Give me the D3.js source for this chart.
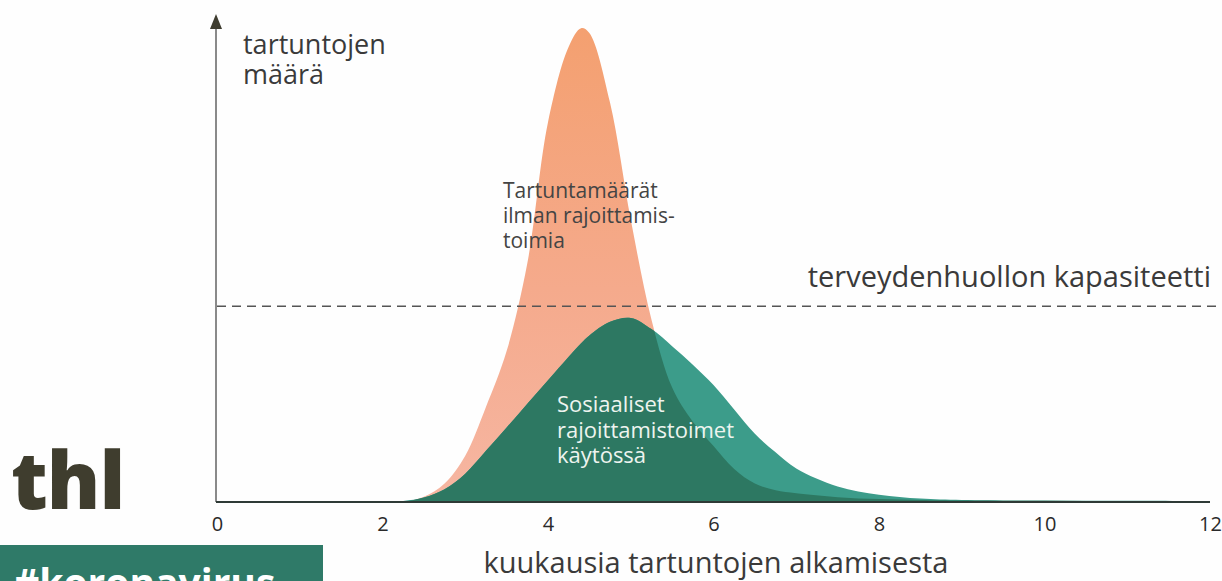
<!DOCTYPE html>
<html>
<head>
<meta charset="utf-8">
<script src="https://cdn.jsdelivr.net/npm/d3@7"></script>
<style>
  body { margin: 0; background: #fefefe; }
  svg { display: block; font-family: "Open Sans", sans-serif; }
</style>
</head>
<body>
<svg id="chart" width="1222" height="581"></svg>
<script>
// months since start of epidemic
var months = [0, 1, 2, 2.25, 2.5, 2.75, 3, 3.25, 3.5, 3.75, 4, 4.25, 4.4, 4.5, 4.75, 5, 5.25, 5.5, 5.75, 6, 6.25, 6.5, 6.75, 7, 7.5, 8, 8.5, 9, 10, 11, 12];
// infections without restrictions (orange)
var noRestrictions = [0, 0, 0, 0.1, 1.1, 3.8, 9.5, 19.5, 31, 49, 78, 93.5, 97.3, 96.3, 82, 58, 37.5, 23.5, 16.5, 11.5, 6.8, 3.8, 2.4, 1.8, 1.0, 0.6, 0.4, 0.3, 0.25, 0.2, 0.2];
// infections with social restrictions (green)
var withRestrictions = [0, 0, 0, 0.2, 0.9, 2.6, 5.8, 10.5, 15.3, 20.2, 25, 29.8, 32.6, 34.2, 37, 37.8, 35.5, 32, 28.2, 24, 19, 14, 10.2, 6.9, 3.2, 1.5, 0.7, 0.4, 0.3, 0.25, 0.2];
var capacity = 40.2;
var xTicks = [0, 2, 4, 6, 8, 10, 12];

var svg = d3.select("#chart");

var x = d3.scaleLinear().domain([0, 12]).range([217, 1210]);
var y = d3.scaleLinear().domain([0, 100]).range([502, 15]);

var defs = svg.append("defs");
var grad = defs.append("linearGradient")
    .attr("id", "orangeGrad")
    .attr("x1", 0).attr("y1", 0).attr("x2", 0).attr("y2", 1);
grad.append("stop").attr("offset", "0%").attr("stop-color", "#f4a070");
grad.append("stop").attr("offset", "55%").attr("stop-color", "#f5aa8c");
grad.append("stop").attr("offset", "100%").attr("stop-color", "#f6b6a2");

var area = function(vals) {
  return d3.area()
    .x(function(d, i) { return x(months[i]); })
    .y0(y(0))
    .y1(function(d) { return y(Math.max(0, d)); })
    .curve(d3.curveCatmullRom.alpha(0.5))(vals);
};

// orange curve
svg.append("path")
    .attr("d", area(noRestrictions))
    .attr("fill", "url(#orangeGrad)");

// green curve, lighter where it lies over white
svg.append("path")
    .attr("d", area(withRestrictions))
    .attr("fill", "#3c9c8a");

// darker green where green overlaps orange
defs.append("clipPath").attr("id", "orangeClip")
  .append("path").attr("d", area(noRestrictions));
svg.append("path")
    .attr("d", area(withRestrictions))
    .attr("clip-path", "url(#orangeClip)")
    .attr("fill", "#2d7862");

// capacity line
svg.append("line")
    .attr("x1", x(0)).attr("x2", 1222)
    .attr("y1", y(capacity)).attr("y2", y(capacity))
    .attr("stroke", "#555")
    .attr("stroke-width", 1.3)
    .attr("stroke-dasharray", "9,6");

// y axis with arrow
svg.append("line")
    .attr("x1", 216).attr("x2", 216)
    .attr("y1", y(0)).attr("y2", 26)
    .attr("stroke", "#8a8a8a").attr("stroke-width", 2);
svg.append("path")
    .attr("d", "M210,29 L216,14 L222,29 Z")
    .attr("fill", "#3f3d30");

// x axis
svg.append("line")
    .attr("x1", 216).attr("x2", x(12))
    .attr("y1", y(0)).attr("y2", y(0))
    .attr("stroke", "#2e3a36").attr("stroke-width", 2.2);

var xAxis = svg.append("g")
    .attr("transform", "translate(0," + y(0) + ")")
    .call(d3.axisBottom(x).tickValues(xTicks).tickSize(0).tickPadding(15).tickFormat(d3.format("d")));
xAxis.select(".domain").remove();
xAxis.selectAll("text")
    .style("font-family", "Open Sans, sans-serif")
    .style("font-size", "20px")
    .attr("fill", "#2a2a2a");

// labels
var label = function(lines, lx, ly, size, color, lh, anchor) {
  var t = svg.append("text")
      .attr("x", lx).attr("y", ly)
      .attr("font-size", size)
      .attr("fill", color)
      .attr("text-anchor", anchor || "start");
  lines.forEach(function(s, i) {
    t.append("tspan").attr("x", lx).attr("dy", i === 0 ? 0 : lh).text(s);
  });
};

label(["tartuntojen", "määrä"], 243, 54, 27, "#3a3a3a", 30);
label(["Tartuntamäärät", "ilman rajoittamis-", "toimia"], 503, 198, 21, "#444", 25);
label(["terveydenhuollon kapasiteetti"], 1211, 287, 29, "#3a3a3a", 0, "end");
label(["Sosiaaliset", "rajoittamistoimet", "käytössä"], 557, 412, 22, "#eef4ef", 25.5);
label(["kuukausia tartuntojen alkamisesta"], 716, 573, 29, "#3a3a3a", 0, "middle");

// thl logo
svg.append("text")
    .attr("x", 11).attr("y", 509)
    .attr("font-size", 80)
    .attr("font-weight", 800)
    .attr("letter-spacing", -1)
    .attr("fill", "#3f3d2e")
    .text("thl");

// #koronavirus badge
svg.append("rect")
    .attr("x", 0).attr("y", 545)
    .attr("width", 323).attr("height", 36)
    .attr("fill", "#2f7a68");
svg.append("text")
    .attr("x", 14).attr("y", 597)
    .attr("font-size", 39)
    .attr("font-weight", 700)
    .attr("fill", "#ffffff")
    .text("#koronavirus");
</script>
</body>
</html>
